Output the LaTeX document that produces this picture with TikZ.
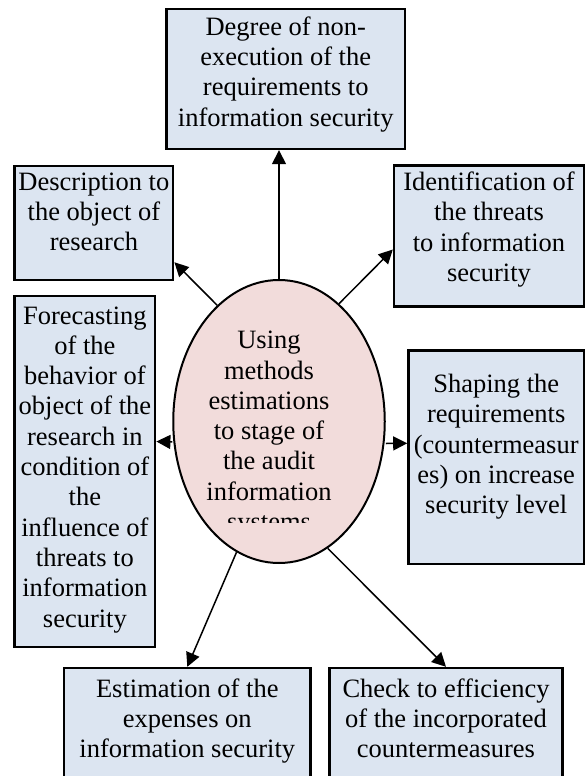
\documentclass[tikz,border=0pt]{standalone}
\usepackage{fontspec}
\setmainfont{Liberation Serif}
\usetikzlibrary{shapes.geometric,arrows.meta,positioning}
\definecolor{boxblue}{HTML}{DCE5F1}
\definecolor{ovalpink}{HTML}{F2DCDB}
\tikzset{
  panel/.style={draw,line width=2.4pt,fill=boxblue,inner sep=0pt},
  words/.style={align=center,inner sep=0pt,font=\fontsize{26.5}{30.3}\selectfont},
  link/.style={->,line width=1.5pt}
}
\begin{document}
\begin{tikzpicture}[x=1pt,y=-1pt,>={Triangle[length=14pt,width=14pt]}]
  \useasboundingbox (0,0) rectangle (586,776);

  \node [draw,ellipse,line width=2pt,fill=ovalpink,minimum width=211.5pt,minimum height=283pt] (0) at (279,421.5) {};
  \node [panel,minimum width=238.5pt,minimum height=140pt] (1) at (285.75,79) {};
  \node [panel,minimum width=158.6pt,minimum height=114pt] (2) at (93.9,223) {};
  \node [panel,minimum width=190pt,minimum height=141pt] (3) at (489,236) {};
  \node [panel,minimum width=140.6pt,minimum height=351pt] (4) at (84.9,471.5) {};
  \node [panel,minimum width=175.6pt,minimum height=213.5pt] (5) at (496.2,457.3) {};
  \node [panel,minimum width=246.4pt,minimum height=140pt] (6) at (187.3,738) {};
  \node [panel,minimum width=233pt,minimum height=140pt] (7) at (446,738) {};

  \begin{scope}
    \clip (150,250) rectangle (420,522);
    \node [words,anchor=north] (t0) at (269,331) {Using\\methods\\estimations\\to stage of\\the audit\\information\\systems};
  \end{scope}
  \node [words,below=8.5pt of 1.north] (t1) {Degree of non-\\execution of the\\requirements to\\information security};
  \node [words,below=7.5pt of 2.north] (t2) {Description to\\the object of\\research};
  \node [words,below=7.5pt of 3.north] (t3) {Identification of\\the threats\\to information\\security};
  \node [words,below=11.5pt of 4.north] (t4) {Forecasting\\of the\\behavior of\\object of the\\research in\\condition of\\the\\influence of\\threats to\\information\\security};
  \node [words,below=24.5pt of 5.north] (t5) {Shaping the\\requirements\\(countermeasur\\es) on increase\\security level};
  \node [words,below=11.5pt of 6.north] (t6) {Estimation of the\\expenses on\\information security};
  \node [words,below=11.5pt of 7.north] (t7) {Check to efficiency\\of the incorporated\\countermeasures};

  \draw [link] (0.north) -- (0.north |- 1.south);
  \draw [link] (0.118) -- (2.-26.5);
  \draw [link] (0.63) -- (3.188);
  \draw [link] ([yshift=-20.5pt]0.west) -- ([yshift=30pt]4.east);
  \draw [link] ([yshift=-22pt]0.east) -- ([yshift=14pt]5.west);
  \draw [link] (0.252) -- (6.north);
  \draw [link] (0.291) -- (7.north);
\end{tikzpicture}
\end{document}
